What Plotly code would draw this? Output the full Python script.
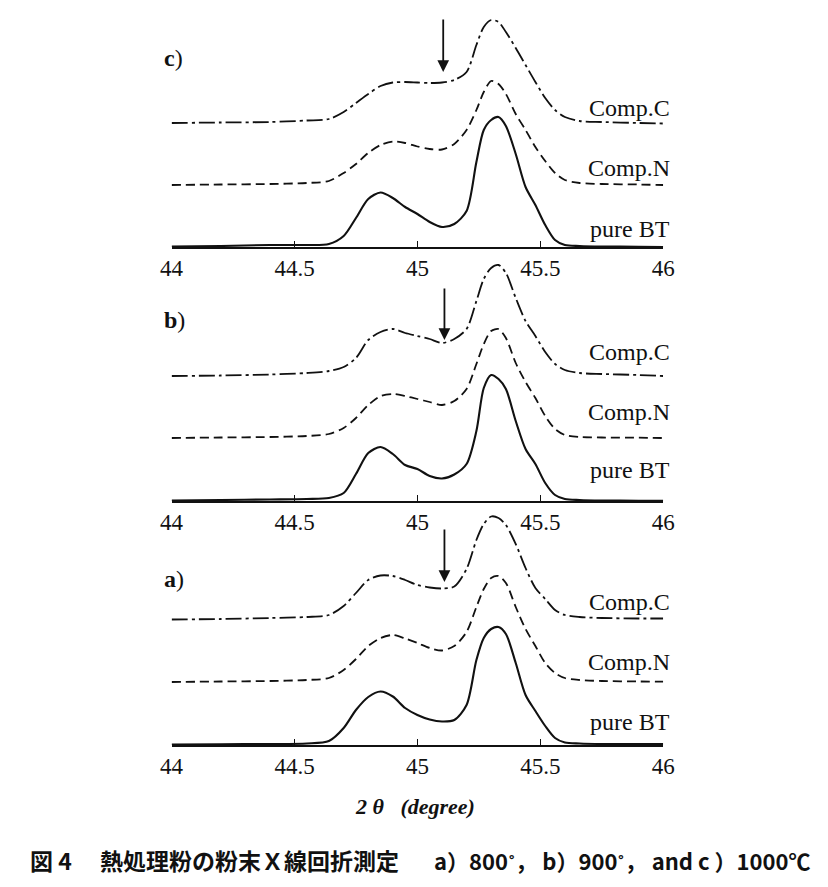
import plotly.graph_objects as go

# ---------------- data ----------------
two_theta = [44.00, 44.20, 44.40, 44.55, 44.64, 44.70, 44.75, 44.80, 44.85, 44.90,
             44.95, 45.00, 45.05, 45.10, 45.15, 45.20, 45.24, 45.27, 45.30, 45.33,
             45.36, 45.40, 45.44, 45.48, 45.52, 45.56, 45.60, 45.66, 45.75, 45.90, 46.00]

# panel c) 1000 C  (intensity, arbitrary units incl. stacking)
c_compC = [124, 124.5, 125, 126.5, 128, 135, 144, 153, 161, 164.5,
           165, 164.5, 164, 164.5, 167, 175, 202, 220, 227, 225,
           215, 199, 182, 165, 149, 137, 130, 126, 125, 124, 123.5]
c_compN = [62, 62.5, 63, 64, 66, 74, 83, 94, 102, 105.5,
           104, 100.5, 98, 97.5, 103, 117, 137, 155, 166, 163,
           153, 133, 117, 100, 86, 74, 67, 64, 63, 62.5, 62]
c_pure = [0.5, 1.0, 2.0, 2.0, 3, 11, 29, 48, 54.5, 49,
          40, 33, 25, 20, 23, 36, 85, 117, 127, 130,
          121, 93, 60, 42, 22, 7, 2, 1, 0.5, 0.3, 0]

# panel b) 900 C
b_compC = [125, 125.5, 126.5, 128, 130, 134, 143, 161, 169, 172,
           168, 165, 162, 158, 162, 172, 200, 222, 233, 236,
           228, 203, 180, 165, 149, 137, 131, 128, 127, 126, 125]
b_compN = [63, 63.5, 64, 65, 67, 73, 83, 96, 105, 107,
           105, 102, 99, 96, 100, 112, 137, 157, 170, 172,
           163, 138, 119, 103, 85, 72, 66, 64, 63.5, 63.3, 63]
b_pure = [0.5, 1, 1.5, 2, 3, 8, 27, 48, 54, 47,
          36, 32, 25, 22.5, 26.5, 37, 70, 113, 126, 122,
          112, 80, 52, 37, 18, 6, 2, 1, 0.5, 0.3, 0.3]

# panel a) 800 C
a_compC = [125.5, 126, 127, 128, 130, 139, 152, 165, 169.5, 169,
           165, 160, 157.5, 156.5, 158.5, 176, 205, 221, 228.5, 227,
           220, 201, 177, 157, 146, 135, 130, 128, 127, 126.5, 126.5]
a_compN = [63, 63.5, 64, 65, 67, 75, 86, 99, 107, 110,
           106.5, 102, 97, 94.5, 99, 113, 138, 156, 167, 169,
           162, 138, 116, 99, 82, 72, 67, 65, 64, 63.5, 63.3]
a_pure = [0.5, 0.8, 1.0, 1.5, 4, 17, 35, 48, 53.5, 48.5,
          37, 30, 25.5, 23.5, 25, 40, 85, 107, 116, 118,
          111, 82, 50, 34, 19, 7, 2.5, 1.5, 1, 1, 1]

series_names = ["Comp.C", "Comp.N", "pure BT"]
panel_names = ["c)", "b)", "a)"]
tick_vals = [44, 44.5, 45, 45.5, 46]
tick_text = ["44", "44.5", "45", "45.5", "46"]

# arrow (peak position marker) per panel: x, tip, tail
arrow_x = [45.105, 45.11, 45.11]
arrow_tip = [175, 161, 163]
arrow_tail = [229, 214, 217]

NB = "\u00a0"
x_title = "<b><i>2" + NB + "θ</i></b>" + NB * 3 + "<b><i>(degree)</i></b>"
caption_fig = "図" + NB + "4"
caption_main = "熱処理粉の粉末Ｘ線回折測定"
caption_cond = "a）800˚，" + NB + "b）900˚，" + NB + "and" + NB + "c" + NB + "）1000℃"

panels = [
    [c_compC, c_compN, c_pure],
    [b_compC, b_compN, b_pure],
    [a_compC, a_compN, a_pure],
]

# ---------------- layout geometry ----------------
W, H = 828, 887
def py(p):
    return 1 - p / H

x_dom = [165 / W, 670 / W]
# (axis pixel row, top pixel row) per panel
panel_px = [(247, 0), (501, 251), (745, 503)]
label_rows = [[108, 168, 229], [352, 412, 470], [602, 662, 722]]
panel_label_rows = [58, 320, 579]

dashes = ["16px,4px,3px,4px", "9px,5px", "solid"]
widths = [1.8, 1.8, 2.1]

fig = go.Figure()
serif = "Liberation Serif"

for i, curves in enumerate(panels):
    ax_id = "" if i == 0 else str(i + 1)
    for j, ys in enumerate(curves):
        fig.add_trace(go.Scatter(
            x=two_theta, y=ys, mode="lines",
            line=dict(color="#111111", width=widths[j], dash=dashes[j], shape="spline", smoothing=0.8),
            xaxis="x" + ax_id, yaxis="y" + ax_id, showlegend=False, hoverinfo="skip",
        ))
    axis_p, top_p = panel_px[i]
    fig.update_layout(**{
        "xaxis" + ax_id: dict(
            domain=x_dom, range=[44, 46], anchor="y" + ax_id,
            showline=True, linecolor="#111111", linewidth=1.6,
            ticks="inside", ticklen=6, tickwidth=1.5, tickcolor="#111111",
            tickvals=tick_vals, ticktext=tick_text, showgrid=False, zeroline=False,
            tickfont=dict(family=serif, size=23, color="#111111"),
        ),
        "yaxis" + ax_id: dict(
            domain=[py(axis_p), py(top_p)], range=[0, axis_p - top_p], anchor="x" + ax_id,
            visible=False, showgrid=False, zeroline=False,
        ),
    })
    # series labels
    for j, name in enumerate(series_names):
        fig.add_annotation(xref="paper", yref="paper", x=679 / W, y=py(label_rows[i][j]),
                           text=name, showarrow=False, xanchor="right", yanchor="middle",
                           font=dict(family=serif, size=24, color="#111111"))
    # panel label
    nm = panel_names[i]
    fig.add_annotation(xref="paper", yref="paper", x=155 / W, y=py(panel_label_rows[i]),
                       text="<b>" + nm[0] + "</b>" + nm[1:], showarrow=False,
                       xanchor="left", yanchor="middle",
                       font=dict(family=serif, size=24, color="#111111"))
    # arrow
    fig.add_annotation(x=arrow_x[i], y=arrow_tip[i], ax=arrow_x[i], ay=arrow_tail[i],
                       xref="x" + ax_id, yref="y" + ax_id, axref="x" + ax_id, ayref="y" + ax_id,
                       text="", showarrow=True, arrowhead=2, arrowsize=1.3, arrowwidth=1.8,
                       arrowcolor="#111111")

fig.add_annotation(xref="paper", yref="paper", x=415 / W, y=py(806), text=x_title,
                   showarrow=False, xanchor="center", yanchor="middle",
                   font=dict(family=serif, size=22, color="#111111"))

cjk = "Noto Sans CJK JP"
fig.add_annotation(xref="paper", yref="paper", x=17 / W, y=py(860), text="<b>" + caption_fig + "</b>",
                   showarrow=False, xanchor="left", yanchor="middle",
                   font=dict(family=cjk, size=23, color="#111111"))
fig.add_annotation(xref="paper", yref="paper", x=89 / W, y=py(860), text="<b>" + caption_main + "</b>",
                   showarrow=False, xanchor="left", yanchor="middle",
                   font=dict(family=cjk, size=23, color="#111111"))
fig.add_annotation(xref="paper", yref="paper", x=823 / W, y=py(860), text="<b>" + caption_cond + "</b>",
                   showarrow=False, xanchor="right", yanchor="middle",
                   font=dict(family=cjk, size=22, color="#111111"))

fig.update_layout(width=W, height=H, margin=dict(l=0, r=0, t=0, b=0),
                  paper_bgcolor="white", plot_bgcolor="white")

fig.write_html("out.html", config={"displayModeBar": False, "staticPlot": True},
               post_script="document.body.style.margin='0px';")
